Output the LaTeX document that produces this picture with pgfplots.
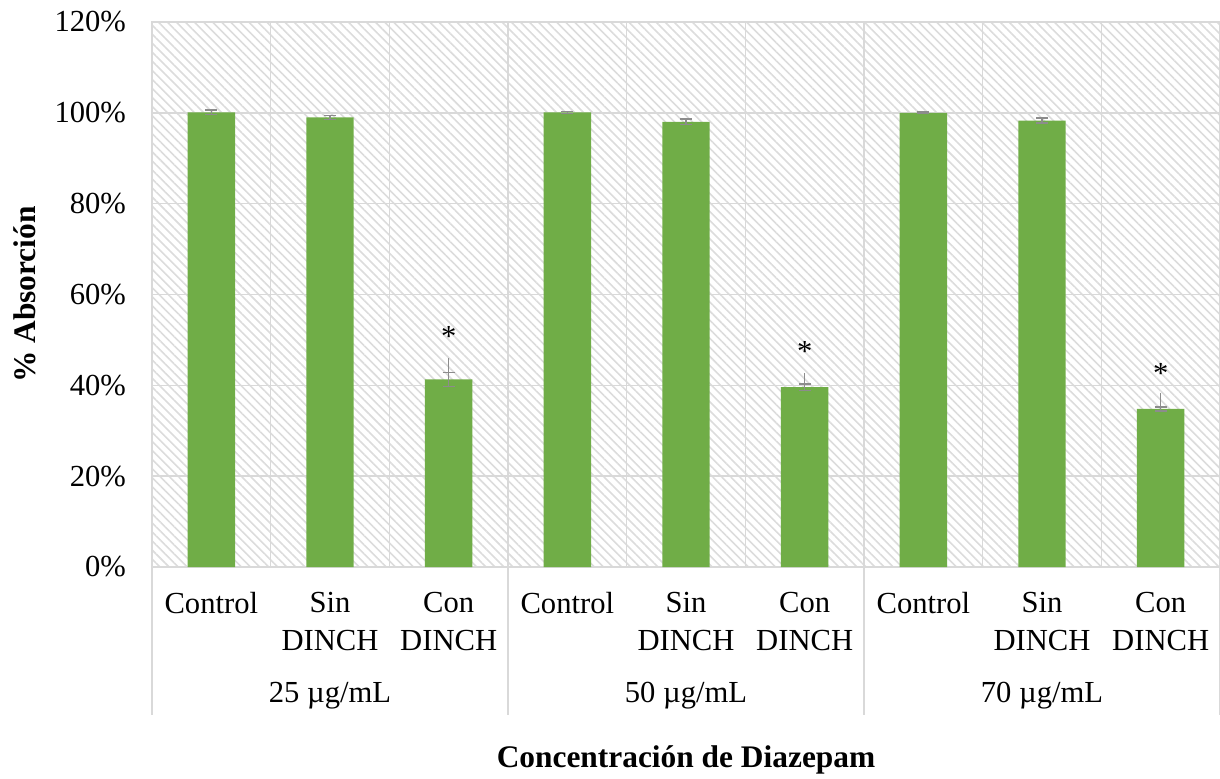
\documentclass[border=0pt]{standalone}
\usepackage{fontspec}
\setmainfont{Liberation Serif}
\usepackage{pgfplots}
\pgfplotsset{compat=1.18}
\usetikzlibrary{patterns.meta}
\definecolor{barg}{HTML}{70AD47}
\definecolor{gridg}{HTML}{D9D9D9}
\definecolor{errg}{HTML}{8C8C8C}
\definecolor{hatch}{HTML}{DCDCDC}
\begin{document}
\begin{tikzpicture}
\begin{axis}[name=ax, scale only axis, width=534pt, height=272.5pt,
  xmin=-0.5, xmax=8.5, ymin=0, ymax=120, clip=false,
  axis background/.style={pattern={Lines[angle=-45,distance=3.2pt,line width=0.8pt]}, pattern color=hatch},
  axis line style={draw=gridg, line width=0.75pt},
  ytick={0,20,...,120},
  yticklabel={\pgfmathprintnumber{\tick}\%},
  /pgf/number format/assume math mode=true,
  yticklabel style={font=\fontsize{15.3}{18}\selectfont, xshift=-9.5pt},
  xtick={0,...,8},
  xticklabels={Control,{Sin\\DINCH},{Con\\DINCH},Control,{Sin\\DINCH},{Con\\DINCH},Control,{Sin\\DINCH},{Con\\DINCH}},
  xticklabel style={font=\fontsize{15.3}{19.2}\selectfont, align=center, anchor=north, yshift=-9pt},
  minor xtick={-0.5,0.5,...,8.5},
  xminorgrids, ymajorgrids,
  major tick length=0pt, minor tick length=0pt,
  grid style={draw=gridg, line width=0.75pt},
  minor grid style={draw=gridg, line width=0.75pt},
]
\addplot[ybar, bar width=0.4, fill=barg, draw=none,
  error bars/.cd, y dir=both, y explicit,
  error bar style={draw=errg, line width=0.75pt},
  error mark options={rotate=90, mark size=3pt, draw=errg, line width=0.75pt}]
coordinates {
 (0,100.1) +- (0,0.5)
 (1,99.0) +- (0,0.45)
 (2,41.3) +- (0,1.5)
 (3,100.1) +- (0,0.2)
 (4,98.0) +- (0,0.6)
 (5,39.6) +- (0,0.7)
 (6,100.0) +- (0,0.2)
 (7,98.3) +- (0,0.55)
 (8,34.8) +- (0,0.4)
};
\addplot[draw=none, mark=none, forget plot,
  error bars/.cd, y dir=plus, y explicit, error mark=none,
  error bar style={draw=errg, line width=0.75pt}]
coordinates {
 (2,41.3) +- (0,4.8)
 (5,39.6) +- (0,3.2)
 (8,34.8) +- (0,3.5)
};
\node[font=\fontsize{15.3}{18}\selectfont] at (axis cs:2,50.8) {*};
\node[font=\fontsize{15.3}{18}\selectfont] at (axis cs:5,47.5) {*};
\node[font=\fontsize{15.3}{18}\selectfont] at (axis cs:8,42.7) {*};
\draw[gridg, line width=0.75pt] (axis description cs:0,0) -- (axis description cs:0,-0.2716);
\draw[gridg, line width=0.75pt] (axis description cs:0.3333333,0) -- (axis description cs:0.3333333,-0.2716);
\draw[gridg, line width=0.75pt] (axis description cs:0.6666667,0) -- (axis description cs:0.6666667,-0.2716);
\draw[gridg, line width=0.75pt] (axis description cs:1,0) -- (axis description cs:1,-0.2716);
\node[font=\fontsize{15.3}{18}\selectfont] at (axis description cs:0.1666667,-0.236) {25 µg/mL};
\node[font=\fontsize{15.3}{18}\selectfont] at (axis description cs:0.5,-0.236) {50 µg/mL};
\node[font=\fontsize{15.3}{18}\selectfont] at (axis description cs:0.8333333,-0.236) {70 µg/mL};
\node[font=\fontsize{15.7}{18}\selectfont\bfseries] at (axis description cs:0.5,-0.354) {Concentración de Diazepam};
\node[font=\fontsize{15.7}{18}\selectfont\bfseries, rotate=90] at (axis description cs:-0.119,0.5) {\% Absorción};
\end{axis}
\pgfresetboundingbox
\useasboundingbox ([xshift=-76pt,yshift=-105.5pt]ax.south west) rectangle ([yshift=11pt]ax.north east);
\end{tikzpicture}
\end{document}
